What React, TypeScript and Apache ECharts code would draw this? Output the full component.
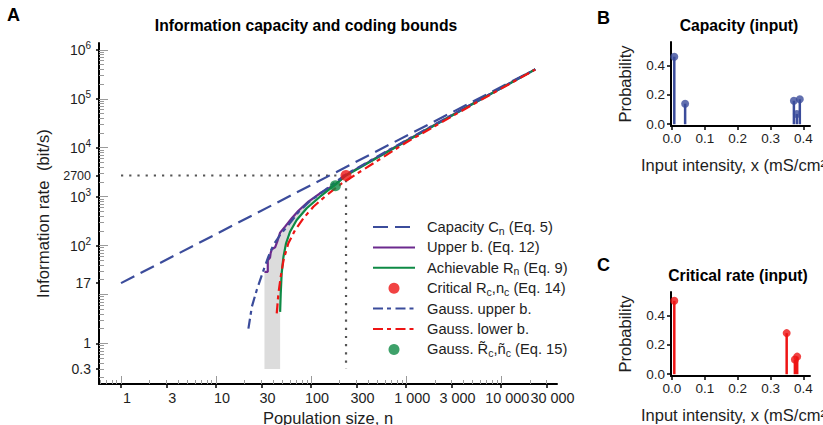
import React, { useEffect, useRef } from "react";
import * as echarts from "echarts";

const FONT = '"Liberation Sans", Arial, Helvetica, sans-serif';
const BLUE = "#3B4C9B";
const PURPLE = "#6C2A8E";
const GREEN = "#0E8A45";
const RED = "#EE1414";
const TXT = "#1e1e1e";

// ---------- Panel A data (population size n, information rate bit/s) ----------
const capacityN = [1, 22800];
const capacityR = [17, 400000];

const upperN = [32.3, 35, 35, 37, 37.5, 38.6, 41.8, 44, 47.2, 53.2, 62.6, 73.5, 93.7, 124, 180, 233, 1000, 5000, 22800];
const upperR = [29, 29, 50, 57, 70, 84, 92, 120, 183, 243, 360, 515, 787, 1167, 1780, 2780, 13900, 79000, 400000];

const achievableN = [47.2, 47.9, 49, 51.2, 54.5, 60, 70.5, 89.9, 124, 180, 233, 1000, 5000, 22800];
const achievableR = [4.4, 10.5, 27, 59, 111, 191, 332, 577, 995, 1760, 2700, 13600, 78000, 400000];

const gaussUpperN = [21.9, 23.8, 26.8, 31.6, 35.5, 40, 47.2, 57.6, 73.5, 93.7, 124, 233, 1000, 5000, 22800];
const gaussUpperR = [2.0, 5.6, 12.3, 31.5, 59, 102, 164, 262, 480, 760, 1150, 2850, 14200, 80000, 402000];

const gaussLowerN = [43.5, 45.3, 47.9, 51.3, 57.6, 67.9, 83, 105.6, 146, 210, 1000, 5000, 22800];
const gaussLowerR = [4.1, 10.5, 23, 50.6, 111, 207, 360, 620, 1075, 1860, 12800, 76000, 395000];

const criticalN = [233];
const criticalR = [2700];
const gaussCriticalN = [180];
const gaussCriticalR = [1670];

const shadeFloor = 0.3;
const shadeMaxN = 124;

// tick labels
const xTickLabels = [1, 3, 10, 30, 100, 300, 1000, 3000, 10000, 30000];
const yTickLabels = [0.3, 1, 17, 100, 1000, 2700, 10000, 100000, 1000000];

// ---------- Panel B / C data ----------
const capInputX = [0.007, 0.04, 0.371, 0.38, 0.389];
const capInputP = [0.46, 0.14, 0.16, 0.07, 0.17];
const critInputX = [0.007, 0.349, 0.374, 0.381];
const critInputP = [0.5, 0.28, 0.1, 0.12];
const probTicks = [0, 0.2, 0.4];
const intensityTicks = [0, 0.1, 0.2, 0.3, 0.4];
const intensityName = "Input intensity, x (mS/cm\u00b2)";

// ---------- helpers ----------
const lg = Math.log10;
const pts = (ns: number[], rs: number[]) => ns.map((n, i) => [lg(n), lg(rs[i])]);

const X_MIN = -0.2316;
const X_MAX = 4.587;
const Y_MIN = -0.832;
const Y_MAX = 6.141;

function logTicks(minLog: number, maxLog: number, mults: number[]) {
  const out: number[] = [];
  for (let e = -2; e <= 7; e++) {
    for (const m of mults) {
      const v = lg(m * Math.pow(10, e));
      if (v >= minLog - 1e-9 && v <= maxLog + 1e-9) out.push(v);
    }
  }
  return out;
}
const MINOR = [2, 3, 4, 5, 6, 7, 8, 9];

function fmtN(v: number) {
  const n = Math.pow(10, v);
  const r = n < 1 ? Math.round(n * 10) / 10 : Math.round(n);
  return String(r).replace(/\B(?=(\d{3})+(?!\d))/g, " ");
}
function fmtR(v: number) {
  const k = Math.round(v);
  if (Math.abs(v - k) < 1e-9 && k >= 2) return "10{sup|" + k + "}";
  const n = Math.pow(10, v);
  const r = n < 1 ? Math.round(n * 10) / 10 : Math.round(n);
  if (r >= 1000) return "{small|" + r + "}";
  return String(r);
}

const LEGEND: Record<string, string> = {
  cap: "Capacity C{sub|n} (Eq. 5)",
  upper: "Upper b. (Eq. 12)",
  ach: "Achievable R{sub|n} (Eq. 9)",
  crit: "Critical R{sub|c},n{sub|c} (Eq. 14)",
  gup: "Gauss. upper b.",
  glo: "Gauss. lower b.",
  gcrit: "Gauss. R\u0303{sub|c},\u00f1{sub|c} (Eq. 15)",
};
const LINE_ITEMS = ["cap", "upper", "ach", "gup", "glo"];
const LEGEND_ORDER = ["cap", "upper", "ach", "crit", "gup", "glo", "gcrit"];

function buildOption() {
  const upperPts = upperN.map((n, i) => [n, upperR[i]]).filter((p) => p[0] <= shadeMaxN);
  const achPts = achievableN.map((n, i) => [n, achievableR[i]]).filter((p) => p[0] <= shadeMaxN);
  const shadePoly = [
    [upperN[0], shadeFloor],
    ...upperPts,
    ...achPts.slice().reverse(),
    [achievableN[0], shadeFloor],
  ];
  const refLine = [
    [1, criticalR[0]],
    [criticalN[0], criticalR[0]],
    [criticalN[0], shadeFloor],
  ];

  const xMajor = xTickLabels.map(lg);
  const yMajor = yTickLabels.map(lg);

  const hiddenAxisBase = {
    type: "value",
    gridIndex: 0,
    axisLine: { show: false, onZero: false },
    axisLabel: { show: false },
    splitLine: { show: false },
  };

  const smallAxisX = (gridIndex: number) => ({
    type: "value",
    gridIndex,
    min: -0.003,
    max: 0.42,
    position: "bottom",
    axisLine: { onZero: false, lineStyle: { color: "#000", width: 2 } },
    axisTick: { customValues: intensityTicks, length: 4, lineStyle: { color: "#000", width: 1.5 } },
    axisLabel: {
      customValues: intensityTicks,
      formatter: (v: number) => v.toFixed(1),
      fontSize: 13.5,
      color: TXT,
      margin: 5,
    },
    splitLine: { show: false },
  });
  const smallAxisY = (gridIndex: number) => ({
    type: "value",
    gridIndex,
    min: -0.012,
    max: 0.56,
    position: "left",
    axisLine: { onZero: false, lineStyle: { color: "#000", width: 2 } },
    axisTick: { customValues: probTicks, length: 4, lineStyle: { color: "#000", width: 1.5 } },
    axisLabel: {
      customValues: probTicks,
      formatter: (v: number) => v.toFixed(1),
      fontSize: 13.5,
      color: TXT,
      margin: 6,
    },
    splitLine: { show: false },
    name: "Probability",
    nameLocation: "middle",
    nameGap: 38,
    nameTextStyle: { fontSize: 16.5, color: TXT },
  });

  const lineSeries = (name: string, data: number[][], color: string, type: any, z: number) => ({
    name,
    type: "line",
    xAxisIndex: 0,
    yAxisIndex: 0,
    data,
    symbol: "none",
    color,
    lineStyle: { color, width: 2.2, type },
    z,
    silent: true,
  });

  const stems = (name: string, xs: number[], ps: number[], idx: number, color: string) => [
    {
      name: name + "_stem",
      type: "custom",
      xAxisIndex: idx,
      yAxisIndex: idx,
      data: xs.map((x, i) => [x, ps[i]]),
      silent: true,
      renderItem: (params: any, api: any) => {
        const a = api.coord([api.value(0), 0]);
        const b = api.coord([api.value(0), api.value(1)]);
        return {
          type: "line",
          shape: { x1: a[0], y1: a[1], x2: b[0], y2: b[1] },
          style: { stroke: color, lineWidth: 2.5 },
        };
      },
    },
    {
      name: name + "_dot",
      type: "scatter",
      xAxisIndex: idx,
      yAxisIndex: idx,
      data: xs.map((x, i) => [x, ps[i]]),
      symbol: "circle",
      symbolSize: 8,
      itemStyle: { color },
      silent: true,
      z: 5,
    },
  ];

  const titleStyle = (size: number) => ({ fontSize: size, fontWeight: "bold", color: "#000", fontFamily: FONT });

  return {
    animation: false,
    backgroundColor: "#ffffff",
    textStyle: { fontFamily: FONT, color: TXT },
    title: [
      { text: "A", left: 7, top: 6, padding: 0, textStyle: titleStyle(18) },
      { text: "Information capacity and coding bounds", left: 306, top: 17, textAlign: "center", padding: 0, textStyle: titleStyle(15.7) },
      { text: "B", left: 597, top: 9, padding: 0, textStyle: titleStyle(18) },
      { text: "Capacity (input)", left: 739, top: 17, textAlign: "center", padding: 0, textStyle: titleStyle(15.7) },
      { text: "C", left: 597, top: 256, padding: 0, textStyle: titleStyle(18) },
      { text: "Critical rate (input)", left: 738, top: 267, textAlign: "center", padding: 0, textStyle: titleStyle(15.7) },
    ],
    graphic: [
      {
        type: "text",
        left: 641,
        top: 156,
        silent: true,
        style: { text: intensityName, fontSize: 16.5, fill: TXT, fontFamily: FONT },
      },
      {
        type: "text",
        left: 641,
        top: 406,
        silent: true,
        style: { text: intensityName, fontSize: 16.5, fill: TXT, fontFamily: FONT },
      },
    ],
    legend: {
      left: 372,
      top: 218,
      orient: "vertical",
      padding: 0,
      itemWidth: 42,
      itemHeight: 11,
      itemGap: 2.4,
      selectedMode: false,
      data: LEGEND_ORDER.map((name) =>
        LINE_ITEMS.indexOf(name) >= 0 ? { name, itemStyle: { opacity: 0 } } : { name }
      ),
      formatter: (name: string) => LEGEND[name] || name,
      textStyle: {
        fontSize: 14.7,
        color: TXT,
        fontFamily: FONT,
        lineHeight: 18,
        padding: [0, 0, 0, 7],
        rich: { sub: { fontSize: 10.5, verticalAlign: "bottom", lineHeight: 18, fontFamily: FONT, color: TXT } },
      },
    },
    grid: [
      { left: 99, top: 43, width: 458, height: 341, outerBoundsMode: "none", containLabel: false },
      { left: 671, top: 42, width: 139, height: 84, outerBoundsMode: "none", containLabel: false },
      { left: 671, top: 292, width: 139, height: 84, outerBoundsMode: "none", containLabel: false },
    ],
    xAxis: [
      {
        type: "value",
        gridIndex: 0,
        min: X_MIN,
        max: X_MAX,
        position: "bottom",
        axisLine: { onZero: false, lineStyle: { color: "#000", width: 2 } },
        axisTick: { customValues: xMajor, length: 4, lineStyle: { color: "#000", width: 1.5 } },
        axisLabel: { customValues: xMajor, formatter: fmtN, fontSize: 14.4, color: TXT, margin: 7, padding: [0, 0, 0, 12] },
        splitLine: { show: false },
        name: "Population size, n",
        nameLocation: "middle",
        nameGap: 24,
        nameTextStyle: { fontSize: 16.5, color: TXT },
      },
      {
        ...hiddenAxisBase,
        min: X_MIN,
        max: X_MAX,
        position: "bottom",
        axisTick: { inside: true, customValues: logTicks(X_MIN, X_MAX, [1]), length: 8, lineStyle: { color: "#9a9a9a", width: 1 } },
      },
      {
        ...hiddenAxisBase,
        min: X_MIN,
        max: X_MAX,
        position: "bottom",
        axisTick: { inside: true, customValues: logTicks(X_MIN, X_MAX, MINOR), length: 4, lineStyle: { color: "#9a9a9a", width: 1 } },
      },
      smallAxisX(1),
      smallAxisX(2),
    ],
    yAxis: [
      {
        type: "value",
        gridIndex: 0,
        min: Y_MIN,
        max: Y_MAX,
        position: "left",
        axisLine: { onZero: false, lineStyle: { color: "#000", width: 2 } },
        axisTick: { customValues: yMajor, length: 3, lineStyle: { color: "#000", width: 1.5 } },
        axisLabel: {
          customValues: yMajor,
          formatter: fmtR,
          fontSize: 14,
          color: TXT,
          margin: 8,
          lineHeight: 18,
          rich: {
            sup: { fontSize: 10, verticalAlign: "top", lineHeight: 18, color: TXT, fontFamily: FONT },
            small: { fontSize: 12.5, lineHeight: 18, color: TXT, fontFamily: FONT },
          },
        },
        splitLine: { show: false },
        name: "Information rate  (bit/s)",
        nameLocation: "middle",
        nameGap: 45,
        nameTextStyle: { fontSize: 16.8, color: TXT },
      },
      {
        ...hiddenAxisBase,
        min: Y_MIN,
        max: Y_MAX,
        position: "left",
        axisTick: { inside: true, customValues: logTicks(Y_MIN, Y_MAX, [1]), length: 9, lineStyle: { color: "#9a9a9a", width: 1 } },
      },
      {
        ...hiddenAxisBase,
        min: Y_MIN,
        max: Y_MAX,
        position: "left",
        axisTick: { inside: true, customValues: logTicks(Y_MIN, Y_MAX, MINOR), length: 5, lineStyle: { color: "#9a9a9a", width: 1 } },
      },
      smallAxisY(1),
      smallAxisY(2),
    ],
    series: [
      {
        name: "shade",
        type: "custom",
        xAxisIndex: 0,
        yAxisIndex: 0,
        data: [[0, 0]],
        silent: true,
        z: 1,
        renderItem: (params: any, api: any) => ({
          type: "polygon",
          shape: { points: shadePoly.map((p) => api.coord([lg(p[0]), lg(p[1])])) },
          style: { fill: "#dcdcdc", stroke: "none" },
        }),
      },
      {
        name: "ref",
        type: "line",
        xAxisIndex: 0,
        yAxisIndex: 0,
        data: refLine.map((p) => [lg(p[0]), lg(p[1])]),
        symbol: "none",
        lineStyle: { color: "#555", width: 2.2, type: [2.2, 6] },
        z: 2,
        silent: true,
      },
      lineSeries("cap", pts(capacityN, capacityR), BLUE, [15, 7], 3),
      lineSeries("upper", pts(upperN, upperR), PURPLE, "solid", 3),
      lineSeries("ach", pts(achievableN, achievableR), GREEN, "solid", 3),
      lineSeries("gup", pts(gaussUpperN, gaussUpperR), BLUE, [10, 4, 4, 4.5], 3),
      lineSeries("glo", pts(gaussLowerN, gaussLowerR), RED, [10, 4, 4, 4.5], 3),
      {
        name: "crit",
        type: "scatter",
        xAxisIndex: 0,
        yAxisIndex: 0,
        data: pts(criticalN, criticalR),
        symbol: "circle",
        symbolSize: 11,
        color: RED,
        itemStyle: { color: RED },
        z: 5,
        silent: true,
      },
      {
        name: "gcrit",
        type: "scatter",
        xAxisIndex: 0,
        yAxisIndex: 0,
        data: pts(gaussCriticalN, gaussCriticalR),
        symbol: "circle",
        symbolSize: 11,
        color: GREEN,
        itemStyle: { color: GREEN },
        z: 5,
        silent: true,
      },
      ...stems("capIn", capInputX, capInputP, 3, BLUE),
      ...stems("critIn", critInputX, critInputP, 4, RED),
    ],
  };
}

export default function App() {
  const ref = useRef<HTMLDivElement>(null);
  useEffect(() => {
    if (!ref.current) return;
    const chart = echarts.init(ref.current, null, { renderer: "svg" });
    chart.setOption(buildOption() as any);
    return () => chart.dispose();
  }, []);
  return (
    <div
      ref={ref}
      style={{ position: "fixed", left: 0, top: 0, width: 823, height: 425, background: "#fff" }}
    />
  );
}
